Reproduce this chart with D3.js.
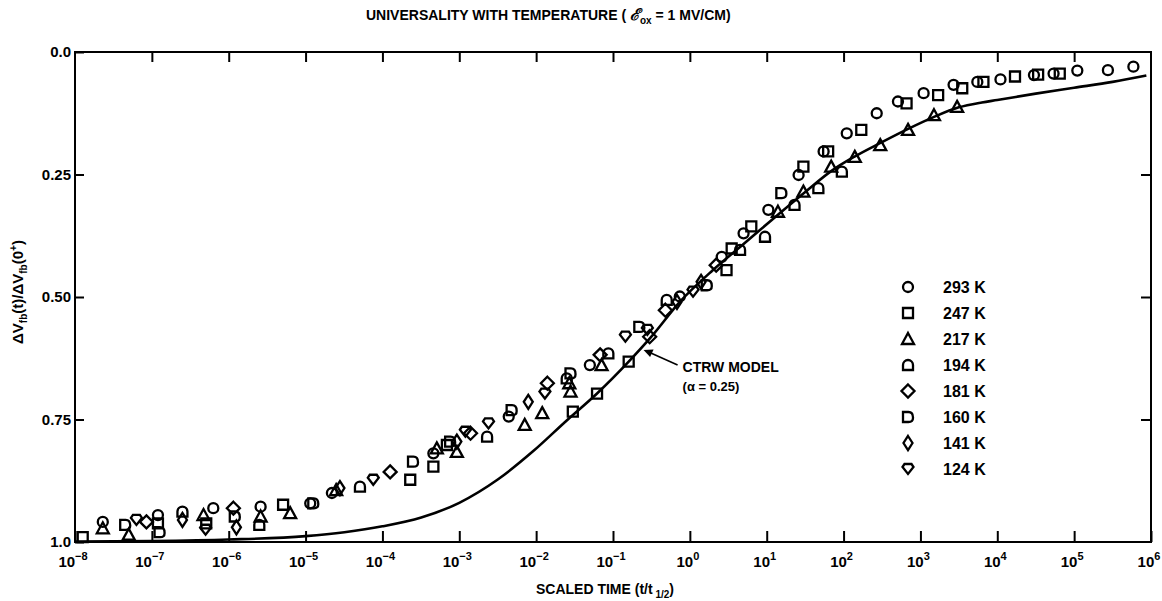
<!DOCTYPE html>
<html>
<head>
<meta charset="utf-8">
<script src="https://cdn.jsdelivr.net/npm/d3@7"></script>
<style>
  body { margin: 0; background: #fff; }
  text { font-family: "Liberation Sans", Arial, sans-serif; font-weight: bold; fill: #000; }
</style>
</head>
<body>
<div id="chart"></div>
<script>
// scaled time t/t1/2 and normalised shift
const s293 = [[5.9e5,0.030],[2.75e5,0.037],[1.1e5,0.038],[5.4e4,0.044],[3.0e4,0.047],[1.1e4,0.056],[5.5e3,0.061],[2.7e3,0.067],[1.1e3,0.084],[510,0.101],[270,0.125],[110,0.166],[55,0.203],[26,0.251],[10.5,0.322],[5.0,0.370],[2.6,0.418],[0.74,0.499],[0.05,0.639],[4.4e-3,0.744],[4.6e-4,0.819],[2.2e-5,0.900],[1.15e-5,0.921],[2.6e-6,0.928],[6.3e-7,0.931],[1.2e-7,0.945],[2.3e-8,0.959]];
const s247 = [[6.5e4,0.044],[3.4e4,0.046],[1.7e4,0.050],[6.6e3,0.061],[3.5e3,0.074],[1.7e3,0.088],[660,0.105],[170,0.159],[63,0.203],[30,0.234],[6.3,0.356],[3.5,0.401],[3.0,0.445],[0.16,0.632],[0.062,0.697],[0.030,0.734],[6.9e-4,0.802],[4.6e-4,0.846],[2.3e-4,0.873],[5.1e-6,0.924],[5.1e-7,0.962],[1.2e-7,0.962],[1.26e-8,0.990]];
const s217 = [[3.0e3,0.112],[1.5e3,0.129],[690,0.159],[300,0.190],[140,0.214],[69,0.234],[30,0.285],[14,0.326],[0.071,0.639],[0.027,0.676],[0.028,0.693],[0.012,0.737],[7.1e-3,0.761],[9.3e-4,0.816],[5.1e-4,0.809],[2.5e-5,0.894],[6.3e-6,0.941],[2.6e-6,0.948],[4.7e-7,0.945],[5.0e-8,0.985],[2.3e-8,0.972]];
const s194 = [[95,0.244],[47,0.278],[23,0.312],[9.5,0.377],[4.5,0.404],[0.50,0.506],[0.087,0.615],[0.025,0.666],[2.3e-3,0.785],[5.1e-5,0.887],[2.5e-6,0.965],[2.5e-7,0.938]];
const s181 = [[2.2,0.435],[0.48,0.527],[0.30,0.581],[0.068,0.618],[0.014,0.676],[1.4e-3,0.778],[1.26e-4,0.857],[1.15e-6,0.931],[8.5e-8,0.959]];
const s160 = [[15.5,0.288],[1.66,0.476],[0.22,0.561],[0.028,0.656],[4.8e-3,0.731],[7.6e-4,0.795],[2.5e-4,0.836],[1.26e-5,0.921],[1.2e-6,0.948],[1.26e-7,0.980],[4.5e-8,0.965]];
const s141 = [[1.4,0.469],[0.68,0.510],[7.9e-3,0.714],[9.3e-4,0.795],[2.8e-5,0.890],[1.26e-6,0.970],[2.5e-7,0.955]];
const s124 = [[1.1,0.489],[0.28,0.567],[0.145,0.581],[0.013,0.697],[2.4e-3,0.758],[1.2e-3,0.775],[7.6e-5,0.873],[5.0e-7,0.975],[6.3e-8,0.955]];

// CTRW model curve (alpha = 0.25)
const modelT = [1e-8,1e-7,1e-6,1e-5,3.2e-5,1e-4,3.2e-4,1e-3,3.2e-3,9.1e-3,0.025,0.062,0.16,0.32,0.74,2.0,5.0,14,32,69,141,316,692,1480,3160,6300,1e4,3.16e4,1e5,3.16e5,8.7e5];
const modelV = [0.999,0.998,0.995,0.988,0.980,0.968,0.950,0.920,0.872,0.815,0.752,0.697,0.632,0.580,0.510,0.445,0.392,0.332,0.285,0.243,0.213,0.184,0.157,0.133,0.113,0.103,0.098,0.085,0.073,0.061,0.048];

const temps = ["293 K","247 K","217 K","194 K","181 K","160 K","141 K","124 K"];
const seriesData = [s293, s247, s217, s194, s181, s160, s141, s124];
const xTicks = [-8,-7,-6,-5,-4,-3,-2,-1,0,1,2,3,4,5,6];
const yTicks = [0, 0.25, 0.5, 0.75, 1.0];
const yLabels = ["0.0","0.25","0.50","0.75","1.0"];

const width = 1162, height = 601;
const marginLeft = 75, marginRight = 11, marginTop = 52, marginBottom = 59;

const x = d3.scaleLog().domain([1e-8, 1e6]).range([marginLeft, width - marginRight]);
const y = d3.scaleLinear().domain([0, 1]).range([marginTop, height - marginBottom]);

// marker shapes, one per temperature
const shapes = [
  "M5,0A5,5,0,1,1,-5,0A5,5,0,1,1,5,0Z",
  "M-5,-5H5V5H-5Z",
  "M0,-6L6,5H-6Z",
  "M-5,5V0A5,5,0,0,1,5,0V5Z",
  "M0,-6.5L6.5,0L0,6.5L-6.5,0Z",
  "M-5,-5H0.5Q5,-5,5,0.5V1Q5,5,0.5,5H-5Z",
  "M0,-7L4.5,0L0,7L-4.5,0Z",
  "M-5.5,-2L-3.5,-5H3.5L5.5,-2L0,5Z"
];

const svg = d3.select("#chart").append("svg")
    .attr("width", width)
    .attr("height", height)
    .attr("viewBox", [0, 0, width, height]);

// title
const title = svg.append("text")
    .attr("x", 366).attr("y", 20)
    .attr("font-size", 14);
title.append("tspan").text("UNIVERSALITY WITH TEMPERATURE ( ");
title.append("tspan").attr("font-style", "italic").attr("font-family", "DejaVu Serif").attr("font-size", 16).text("ℰ");
title.append("tspan").attr("dy", 4).attr("font-size", 10).text("ox");
title.append("tspan").attr("dy", -4).text(" = 1 MV/CM)");

// axes: ticks point into the frame
svg.append("g")
    .attr("transform", `translate(0,${height - marginBottom})`)
    .call(d3.axisBottom(x).tickValues(xTicks.map(e => Math.pow(10, e))).tickSize(-11).tickFormat(""))
    .call(g => g.select(".domain").remove());
svg.append("g")
    .attr("transform", `translate(0,${marginTop})`)
    .call(d3.axisTop(x).tickValues(xTicks.slice(1, -1).map(e => Math.pow(10, e))).tickSize(-10).tickFormat(""))
    .call(g => g.select(".domain").remove());
svg.append("g")
    .attr("transform", `translate(${marginLeft},0)`)
    .call(d3.axisLeft(y).tickValues(yTicks).tickSize(-9).tickFormat(""))
    .call(g => g.select(".domain").remove());
svg.append("g")
    .attr("transform", `translate(${width - marginRight},0)`)
    .call(d3.axisRight(y).tickValues(yTicks.slice(1, -1)).tickSize(-10).tickFormat(""))
    .call(g => g.select(".domain").remove());
svg.selectAll(".tick line").attr("stroke", "#000").attr("stroke-width", 2);

svg.append("rect")
    .attr("x", marginLeft).attr("y", marginTop)
    .attr("width", width - marginLeft - marginRight)
    .attr("height", height - marginTop - marginBottom)
    .attr("fill", "none").attr("stroke", "#000").attr("stroke-width", 2);

// tick labels
const xl = svg.append("g").selectAll("text").data(xTicks).join("text")
    .attr("x", d => x(Math.pow(10, d)) - 2)
    .attr("y", 567)
    .attr("text-anchor", "middle")
    .attr("font-size", 15);
xl.append("tspan").text("10");
xl.append("tspan").attr("dy", -7).attr("font-size", 11).text(d => d < 0 ? "\u2212" + (-d) : d);

svg.append("g").selectAll("text").data(yTicks).join("text")
    .attr("x", 71)
    .attr("y", d => y(d) + 5)
    .attr("text-anchor", "end")
    .attr("font-size", 15)
    .text((d, i) => yLabels[i]);

// axis titles
const xt = svg.append("text")
    .attr("x", 605).attr("y", 594)
    .attr("text-anchor", "middle")
    .attr("font-size", 14);
xt.append("tspan").text("SCALED TIME (t/t");
xt.append("tspan").attr("dy", 4).attr("font-size", 10).text(" 1/2");
xt.append("tspan").attr("dy", -4).text(")");

const yt = svg.append("text")
    .attr("transform", "translate(23,292) rotate(-90)")
    .attr("text-anchor", "middle")
    .attr("font-size", 15);
yt.append("tspan").text("ΔV");
yt.append("tspan").attr("dy", 4).attr("font-size", 10).text("fb");
yt.append("tspan").attr("dy", -4).text("(t)/ΔV");
yt.append("tspan").attr("dy", 4).attr("font-size", 10).text("fb");
yt.append("tspan").attr("dy", -4).text("(0");
yt.append("tspan").attr("dy", -6).attr("font-size", 10).text("+");
yt.append("tspan").attr("dy", 6).text(")");

// model curve
const line = d3.line()
    .x(d => x(d[0]))
    .y(d => y(d[1]))
    .curve(d3.curveMonotoneX);
svg.append("path")
    .datum(modelT.map((t, i) => [t, modelV[i]]))
    .attr("d", line)
    .attr("fill", "none")
    .attr("stroke", "#000")
    .attr("stroke-width", 2.6);

// data points
seriesData.forEach((s, k) => {
  svg.append("g").selectAll("path").data(s).join("path")
      .attr("transform", d => `translate(${x(d[0])},${y(d[1])})`)
      .attr("d", shapes[k])
      .attr("fill", "none")
      .attr("stroke", "#000")
      .attr("stroke-width", 2.3);
});

// annotation
const tip = [0.25, 0.608];
svg.append("line")
    .attr("x1", x(tip[0]) + 34).attr("y1", y(tip[1]) + 15)
    .attr("x2", x(tip[0]) + 5).attr("y2", y(tip[1]) + 2)
    .attr("stroke", "#000").attr("stroke-width", 1.6);
svg.append("path")
    .attr("d", `M${x(tip[0])},${y(tip[1])}l10,-0.5l-3.5,7.5z`)
    .attr("fill", "#000");
svg.append("text").attr("x", x(tip[0]) + 39).attr("y", y(tip[1]) + 22)
    .attr("font-size", 14).text("CTRW MODEL");
svg.append("text").attr("x", x(tip[0]) + 39).attr("y", y(tip[1]) + 41)
    .attr("font-size", 13).attr("font-weight", "normal").text("(α = 0.25)");

// legend
const legend = svg.append("g").selectAll("g").data(temps).join("g")
    .attr("transform", (d, i) => `translate(908,${287 + i * 26})`);
legend.append("path")
    .attr("d", (d, i) => shapes[i])
    .attr("fill", "none").attr("stroke", "#000").attr("stroke-width", 2.3);
legend.append("text")
    .attr("x", 35).attr("y", 6)
    .attr("font-size", 16)
    .text(d => d);
</script>
</body>
</html>
